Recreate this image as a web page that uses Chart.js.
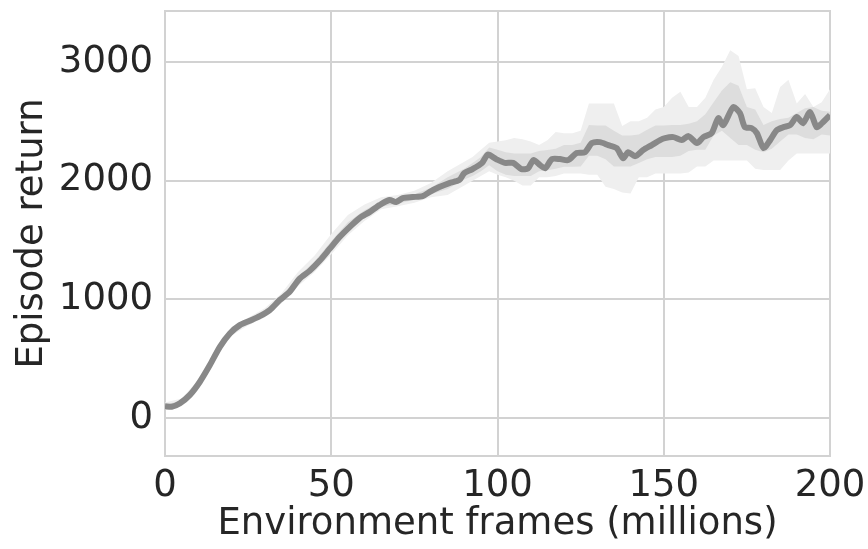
<!DOCTYPE html>
<html lang="en">
<head>
<meta charset="UTF-8">
<title>Episode return</title>
<script src="https://cdn.jsdelivr.net/npm/chart.js"></script>
<style>
html, body {
	margin: 0;
	padding: 0;
	background: #ffffff;
}

#wrap {
	width: 868px;
	height: 549px;
}
</style>
</head>
<body>
	<div id="wrap">
		<canvas id="chartReturn"></canvas>
	</div>
	<script>
		// mean episode return (frames in millions)
		const meanX = [0, 2, 4.5, 7.5, 10.5, 13.5, 16.5, 19.5, 22.5, 25.5, 28.5, 31.5, 34.5, 37.5, 40.5, 43.5, 46.5, 49.5,
			52.5, 55.5, 58.5, 61.5, 64.5, 67.5, 69.5, 71.5, 74.5, 77.5, 79.5, 82.5, 85.5, 88.5, 90, 92.5, 95.3, 97.1,
			99.7, 102.2, 104.7, 107.2, 109.2, 110.8, 112.8, 114.3, 116.4, 118.8, 121.3, 123.8, 126.3, 128.4, 130.8,
			133.3, 135.8, 137.8, 139.3, 141.4, 143.8, 146.4, 148.9, 150.4, 152.9, 155.4, 157.4, 160, 161.9, 164.4,
			166.4, 167.9, 170.9, 172.9, 174.4, 176.4, 178, 180, 182, 184, 186, 188, 190, 191.9, 194, 196, 197.6, 200];
		const meanY = [100, 95, 125, 195, 306, 446, 600, 713, 783, 820, 859, 910, 994, 1064, 1175, 1240, 1325, 1425,
			1525, 1609, 1685, 1735, 1794, 1837, 1820, 1853, 1862, 1870, 1904, 1946, 1980, 2005, 2064, 2098, 2148, 2220,
			2180, 2150, 2150, 2098, 2105, 2174, 2131, 2105, 2182, 2182, 2174, 2233, 2240, 2317, 2325,
			2300, 2275, 2190, 2240, 2207, 2258, 2300, 2342, 2359, 2367, 2342, 2376, 2317, 2367, 2401,
			2527, 2468, 2620, 2570, 2451, 2443, 2401, 2275, 2342, 2426, 2451, 2468, 2536, 2485, 2578, 2451, 2485, 2553];

		// shaded bands
		const bandX = [0, 5, 10, 15, 20, 25, 30, 35, 40, 45, 50, 55, 60, 65, 70, 75, 80, 85, 90,
			92.5, 95, 97.5, 100, 102.5, 105, 107.5, 110, 112.5, 115, 117.5, 120, 122.5, 125, 127.5, 130, 132.5, 135,
			137.5, 140, 142.5, 145, 147.5, 150, 152.5, 155, 157.5, 160, 162.5, 165, 167.5, 170, 172.5, 175, 177.5,
			180, 182.5, 185, 187.5, 190, 192.5, 195, 197.5, 200];
		const outerLo = [70, 100, 260, 495, 695, 780, 850, 965, 1110, 1230, 1380, 1540, 1660, 1760, 1785, 1815, 1860, 1880, 1960,
			2000, 2040, 2080, 2050, 2030, 2000, 1960, 1960, 2030, 2030, 2040, 2060, 2060, 2060, 2050, 2050, 1950, 1930,
			1900, 1893, 2030, 2030, 2060, 2060, 2060, 2060, 2070, 2120, 2120, 2170, 2170, 2170, 2170, 2170, 2100,
			2090, 2090, 2090, 2170, 2230, 2230, 2230, 2230, 2230];
		const outerHi = [130, 165, 320, 555, 755, 845, 925, 1050, 1230, 1370, 1550, 1710, 1800, 1860, 1880, 1915, 1980, 2080, 2160,
			2200, 2260, 2320, 2330, 2340, 2360, 2350, 2330, 2300, 2340, 2410, 2400, 2400, 2420, 2650, 2650, 2650, 2650,
			2460, 2500, 2500, 2530, 2600, 2620, 2700, 2750, 2620, 2620, 2700, 2850, 2960, 3100, 3050, 2770, 2780,
			2620, 2570, 2790, 2850, 2650, 2730, 2620, 2660, 2770];
		const innerLo = [85, 115, 275, 510, 710, 797, 868, 985, 1135, 1255, 1410, 1565, 1685, 1780, 1805, 1840, 1885, 1930, 2010,
			2040, 2080, 2130, 2080, 2050, 2040, 2040, 2040, 2080, 2089, 2100, 2117, 2117, 2120, 2210, 2210, 2180, 2120,
			2120, 2120, 2150, 2180, 2200, 2200, 2200, 2210, 2250, 2260, 2260, 2380, 2420, 2360, 2300, 2300, 2260,
			2240, 2270, 2330, 2390, 2390, 2360, 2350, 2390, 2380];
		const innerHi = [115, 145, 305, 540, 740, 827, 902, 1025, 1190, 1320, 1490, 1650, 1750, 1825, 1850, 1885, 1940, 2030, 2100,
			2150, 2200, 2280, 2260, 2240, 2230, 2230, 2230, 2250, 2258, 2270, 2300, 2300, 2320, 2470, 2465, 2465, 2420,
			2380, 2380, 2390, 2430, 2465, 2465, 2470, 2470, 2480, 2500, 2560, 2660, 2760, 2830, 2800, 2620, 2600,
			2470, 2500, 2520, 2530, 2570, 2610, 2620, 2590, 2580];

		const xTicks = [0, 50, 100, 150, 200];
		const yTicks = [0, 1000, 2000, 3000];

		const pts = (xs, ys) => xs.map((x, i) => ({ x: x, y: ys[i] }));

		const frame = {
			id: 'frame',
			beforeDatasetsDraw(chart) {
				const a = chart.chartArea;
				const c = chart.ctx;
				c.save();
				c.strokeStyle = '#d2d2d2';
				c.lineWidth = 2;
				c.strokeRect(a.left, a.top, a.right - a.left, a.bottom - a.top);
				c.restore();
			}
		};

		const band = (data, fill, color) => ({
			data: data,
			fill: fill,
			backgroundColor: color,
			borderWidth: 0,
			pointRadius: 0,
			tension: 0
		});

		const ctx = document.getElementById('chartReturn').getContext('2d');
		const myChart = new Chart(ctx, {
			type: 'line',
			data: {
				datasets: [{
					label: 'Episode return',
					data: pts(meanX, meanY),
					borderColor: '#888888',
					borderWidth: 6,
					pointRadius: 0,
					tension: 0.25,
					fill: false
				},
				band(pts(bandX, innerHi), 2, '#dddddd'),
				band(pts(bandX, innerLo), false, '#dddddd'),
				band(pts(bandX, outerHi), 4, '#efefef'),
				band(pts(bandX, outerLo), false, '#efefef')]
			},
			options: {
				responsive: true,
				maintainAspectRatio: false,
				animation: false,
				layout: {
					padding: { top: 11, right: 38, left: 0, bottom: 0 }
				},
				plugins: {
					legend: { display: false },
					tooltip: { enabled: false }
				},
				scales: {
					x: {
						type: 'linear',
						min: 0,
						max: 200,
						afterBuildTicks: s => { s.ticks = xTicks.map(v => ({ value: v })); },
						afterFit: s => {
							s.height = 93;
							s.paddingLeft = 0;
							s.paddingRight = 0;
						},
						grid: { color: '#d2d2d2', lineWidth: 2, drawTicks: false },
						border: { display: false },
						ticks: {
							color: '#262626',
							padding: 8,
							maxRotation: 0,
							callback: v => String(v),
							font: { family: 'DejaVu Sans', size: 37 }
						},
						title: {
							display: true,
							text: 'Environment frames (millions)',
							color: '#262626',
							padding: { top: 0, bottom: 2 },
							font: { family: 'DejaVu Sans', size: 37 }
						}
					},
					y: {
						type: 'linear',
						min: -320,
						max: 3430,
						afterBuildTicks: s => { s.ticks = yTicks.map(v => ({ value: v })); },
						afterFit: s => {
							s.width = 165;
							s.paddingTop = 0;
							s.paddingBottom = 0;
						},
						grid: { color: '#d2d2d2', lineWidth: 2, drawTicks: false },
						border: { display: false },
						ticks: {
							color: '#262626',
							padding: 12,
							callback: v => String(v),
							font: { family: 'DejaVu Sans', size: 37 }
						},
						title: {
							display: true,
							text: 'Episode return',
							color: '#262626',
							padding: { top: 10, bottom: 6 },
							font: { family: 'DejaVu Sans', size: 37 }
						}
					}
				}
			},
			plugins: [frame]
		});
	</script>
</body>
</html>
